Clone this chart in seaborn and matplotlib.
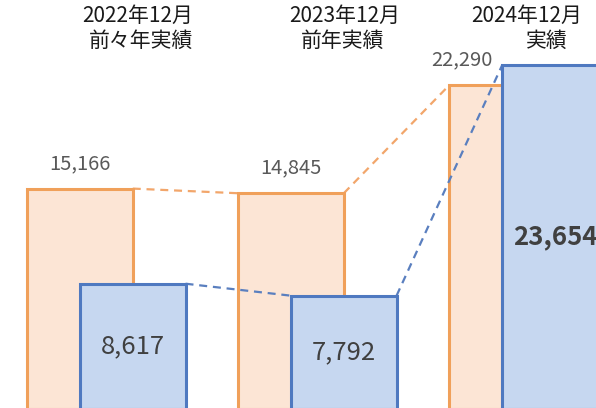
import numpy as np
import pandas as pd
import matplotlib.pyplot as plt
import seaborn as sns

# data
periods = ['2022年12月', '2023年12月', '2024年12月']
period_notes = ['前々年実績', '前年実績', '実績']
orange_values = [15166, 14845, 22290]
blue_values = [8617, 7792, 23654]

sns.set_style('white')
plt.rcParams['font.family'] = ['Noto Sans CJK JP', 'DejaVu Sans']

ORANGE_EDGE = '#F0A05A'
ORANGE_FILL = '#FCE5D5'
ORANGE_DASH = '#F2A66B'
BLUE_EDGE = '#4F79C0'
BLUE_FILL = '#C6D7F0'
BLUE_DASH = '#5A7FBF'

width = 0.5
pos = np.arange(len(periods))
df_orange = pd.DataFrame({'x': pos, 'value': orange_values})
df_blue = pd.DataFrame({'x': pos + width / 2, 'value': blue_values})

fig = plt.figure(figsize=(5.96, 4.08), dpi=100)
ax = fig.add_axes([0, 0, 1, 1])

# back bars (orange)
sns.barplot(data=df_orange, x='x', y='value', native_scale=True, orient='x',
            width=width, color=ORANGE_FILL, edgecolor=ORANGE_EDGE, linewidth=2.2,
            saturation=1, errorbar=None, zorder=2, ax=ax)
# front bars (blue)
sns.barplot(data=df_blue, x='x', y='value', native_scale=True, orient='x',
            width=width, color=BLUE_FILL, edgecolor=BLUE_EDGE, linewidth=2.2,
            saturation=1, errorbar=None, zorder=4, ax=ax)


def connectors(df, color, z):
    # dashed line from the top-right corner of a bar to the top-left of the next
    for i in range(len(df) - 1):
        x0 = df['x'][i] + width / 2
        x1 = df['x'][i + 1] - width / 2
        ax.plot([x0, x1], [df['value'][i], df['value'][i + 1]], color=color,
                linewidth=1.6, dashes=(3.6, 2.6), zorder=z)


connectors(df_orange, ORANGE_DASH, 1)
connectors(df_blue, BLUE_DASH, 3)

# value labels above the orange bars
label_shift = [0, 0, -40]
for x, v, dx in zip(df_orange['x'], df_orange['value'], label_shift):
    ax.annotate(f'{v:,}', (x, v), xytext=(dx, 25), textcoords='offset pixels',
                ha='center', va='center', fontsize=14.5, color='#595959', zorder=6)

# value labels inside the blue bars
for i, (x, v) in enumerate(zip(df_blue['x'], df_blue['value'])):
    ax.text(x, v / 2, f'{v:,}', ha='center', va='center', fontsize=18.5,
            color='#404040', fontweight='bold' if i == len(df_blue) - 1 else 'normal',
            zorder=6)

# group titles
title_x = [0.275, 1.256, 2.118]
note_x = [0.29, 1.246, 2.21]
trans = ax.get_xaxis_transform()
for p, n, xp, xn in zip(periods, period_notes, title_x, note_x):
    ax.text(xp, 0.962, p, transform=trans, ha='center', va='center',
            fontsize=15, color='#1a1a1a')
    ax.text(xn, 0.900, n, transform=trans, ha='center', va='center',
            fontsize=15, color='#1a1a1a')

ax.set_xlim(-0.379, 2.445)
ax.set_ylim(60, 28150)
ax.axis('off')

fig.savefig('out.png', dpi=100)
